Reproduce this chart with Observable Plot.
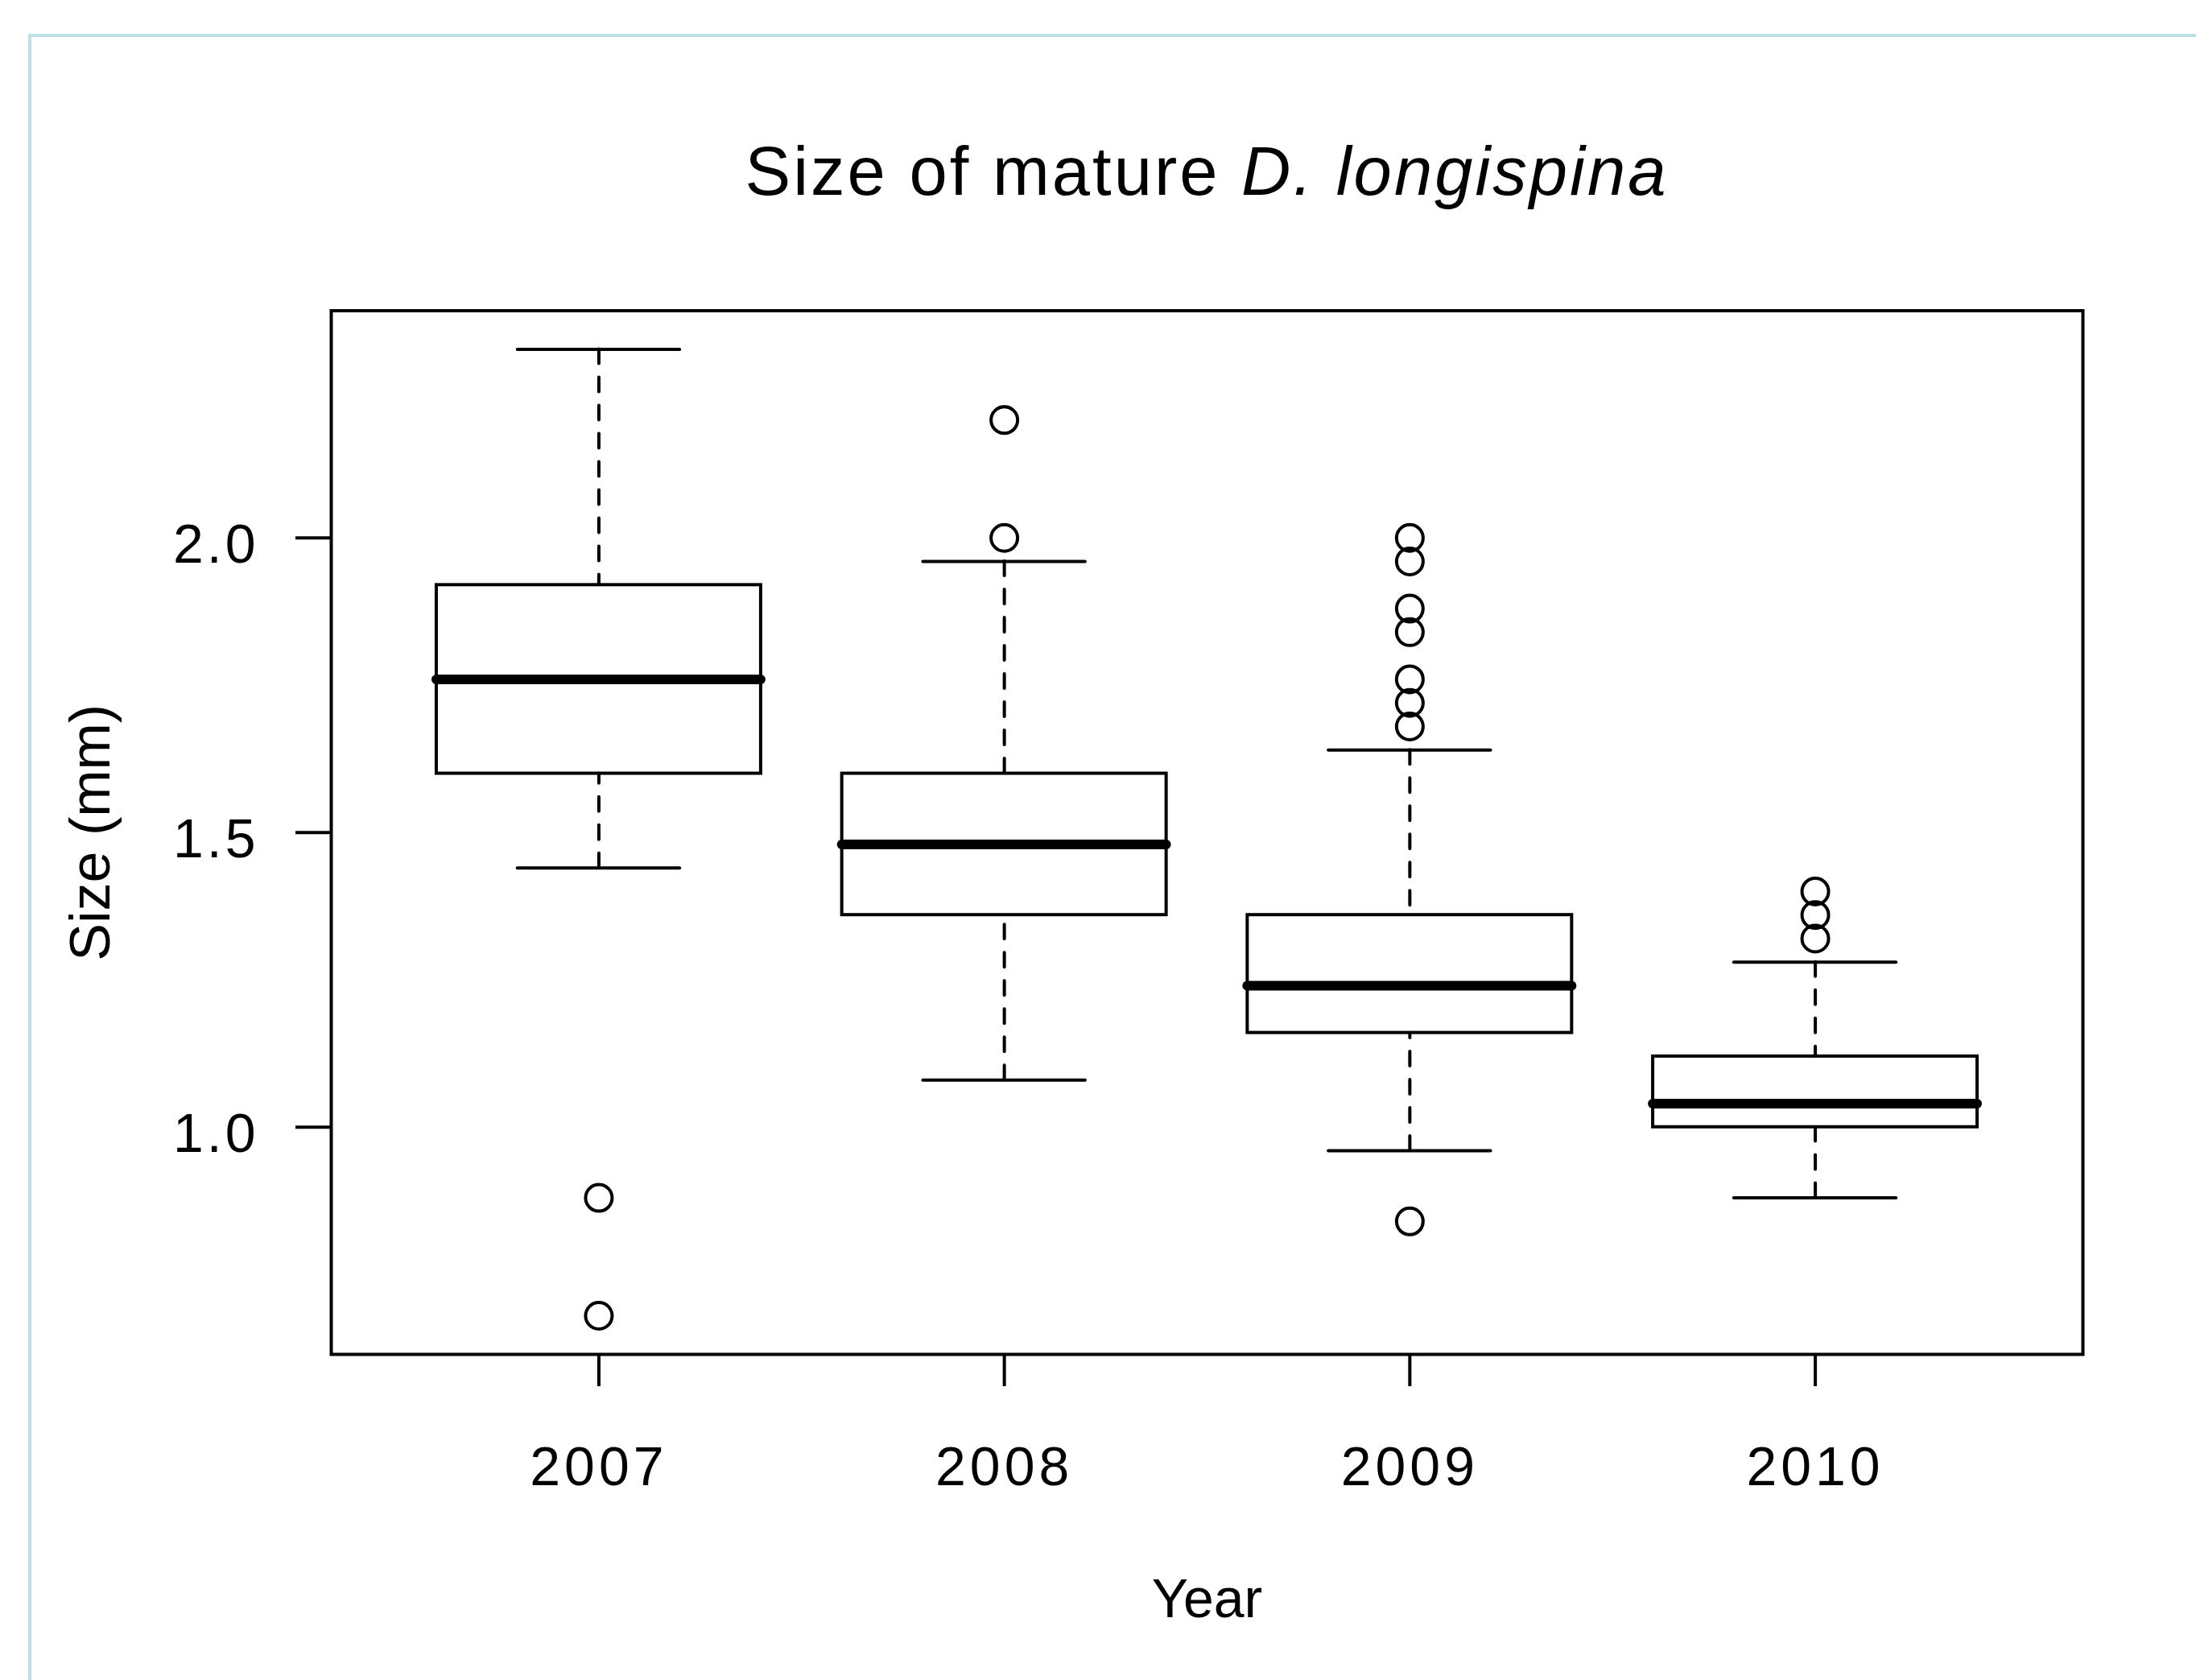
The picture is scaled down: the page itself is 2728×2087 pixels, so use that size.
<!DOCTYPE html>
<html><head><meta charset="utf-8">
<script src="https://cdn.jsdelivr.net/npm/d3@7"></script>
<script src="https://cdn.jsdelivr.net/npm/@observablehq/plot@0.6"></script>
<style>
html,body{margin:0;padding:0;background:#fff;}
#page{position:relative;width:2728px;height:2087px;overflow:hidden;background:#fff;font-family:"Liberation Sans",Arial,sans-serif;}
#border{position:absolute;left:35px;top:42px;width:2800px;height:2200px;border-left:4px solid #bde0e5;border-top:4px solid #bde0e5;box-sizing:border-box;z-index:5;pointer-events:none;}
#title{position:relative;height:300px;}
#title span{position:absolute;left:411px;width:2176px;top:170px;text-align:center;font-size:85px;line-height:1;letter-spacing:3px;color:#000;white-space:nowrap;}
#chart{position:relative;}
g[aria-label="x-axis tick label"] text{letter-spacing:5px;}
g[aria-label="y-axis tick label"] text{letter-spacing:4px;}
</style></head>
<body><div id="page"><div id="border"></div><div id="title"><span>Size of mature <i>D. longispina</i></span></div><div id="chart"></div></div>
<script>
const years = ["2007", "2008", "2009", "2010"];
const lowerWhisker = [1.44, 1.08, 0.96, 0.88];
const lowerQuartile = [1.60, 1.36, 1.16, 1.00];
const medians = [1.76, 1.48, 1.24, 1.04];
const upperQuartile = [1.92, 1.60, 1.36, 1.12];
const upperWhisker = [2.32, 1.96, 1.64, 1.28];
const outliers = [
  [0.88, 0.68],
  [2.20, 2.00],
  [2.00, 1.96, 1.88, 1.84, 1.76, 1.72, 1.68, 0.84],
  [1.40, 1.36, 1.32]
];
const yTicks = [1.0, 1.5, 2.0];
const xLabel = "Year";
const yLabel = "Size (mm)";

const boxes = years.map((year, i) => ({
  pos: i + 1, year,
  lo: lowerWhisker[i], q1: lowerQuartile[i], med: medians[i], q3: upperQuartile[i], hi: upperWhisker[i]
}));
const outlierRows = years.flatMap((year, i) => outliers[i].map(v => ({pos: i + 1, year, value: v})));

const font = '"Liberation Sans", Arial, sans-serif';
const chart = Plot.plot({
  width: 2728, height: 1787,
  marginTop: 85.5, marginBottom: 405, marginLeft: 411, marginRight: 141,
  style: {fontFamily: font, fontSize: "68px", color: "#000", background: "transparent", overflow: "visible"},
  x: {type: "linear", domain: [0.34, 4.66]},
  y: {domain: [0.6144, 2.3856]},
  marks: [
    Plot.ruleX(boxes, {x: "pos", y1: "hi", y2: "q3", stroke: "#000", strokeWidth: 4, strokeDasharray: "18,17", strokeLinecap: "round"}),
    Plot.ruleX(boxes, {x: "pos", y1: "lo", y2: "q1", stroke: "#000", strokeWidth: 4, strokeDasharray: "18,17", strokeLinecap: "round"}),
    Plot.ruleY(boxes, {y: "hi", x1: d => d.pos - 0.2, x2: d => d.pos + 0.2, stroke: "#000", strokeWidth: 4, strokeLinecap: "round"}),
    Plot.ruleY(boxes, {y: "lo", x1: d => d.pos - 0.2, x2: d => d.pos + 0.2, stroke: "#000", strokeWidth: 4, strokeLinecap: "round"}),
    Plot.rect(boxes, {x1: d => d.pos - 0.4, x2: d => d.pos + 0.4, y1: "q1", y2: "q3", fill: "none", stroke: "#000", strokeWidth: 4}),
    Plot.ruleY(boxes, {y: "med", x1: d => d.pos - 0.4, x2: d => d.pos + 0.4, stroke: "#000", strokeWidth: 12, strokeLinecap: "round"}),
    Plot.dot(outlierRows, {x: "pos", y: "value", r: 16.5, stroke: "#000", strokeWidth: 4, fill: "none"}),
    Plot.frame({stroke: "#000", strokeWidth: 4}),
    Plot.axisX({ticks: [1, 2, 3, 4], tickFormat: d => years[d - 1], tickSize: 40, tickPadding: 74, stroke: "#000", strokeWidth: 4, fontSize: 68, label: null}),
    Plot.axisY({ticks: yTicks, tickFormat: () => "", tickSize: 44, tickPadding: 0, stroke: "#000", strokeWidth: 4, label: null}),
    Plot.axisY({ticks: yTicks, tickFormat: d3.format(".1f"), tickSize: 0, tickPadding: 90, fontSize: 68, dy: 9, label: null}),
    Plot.text([xLabel], {text: d => d, frameAnchor: "bottom", dy: 326, lineAnchor: "bottom", fontSize: 68, fill: "#000"}),
    Plot.text([yLabel], {text: d => d, frameAnchor: "left", dx: -276, rotate: -90, lineAnchor: "bottom", textAnchor: "middle", fontSize: 70, fill: "#000"})
  ]
});
document.getElementById("chart").appendChild(chart);
</script>
</body></html>
